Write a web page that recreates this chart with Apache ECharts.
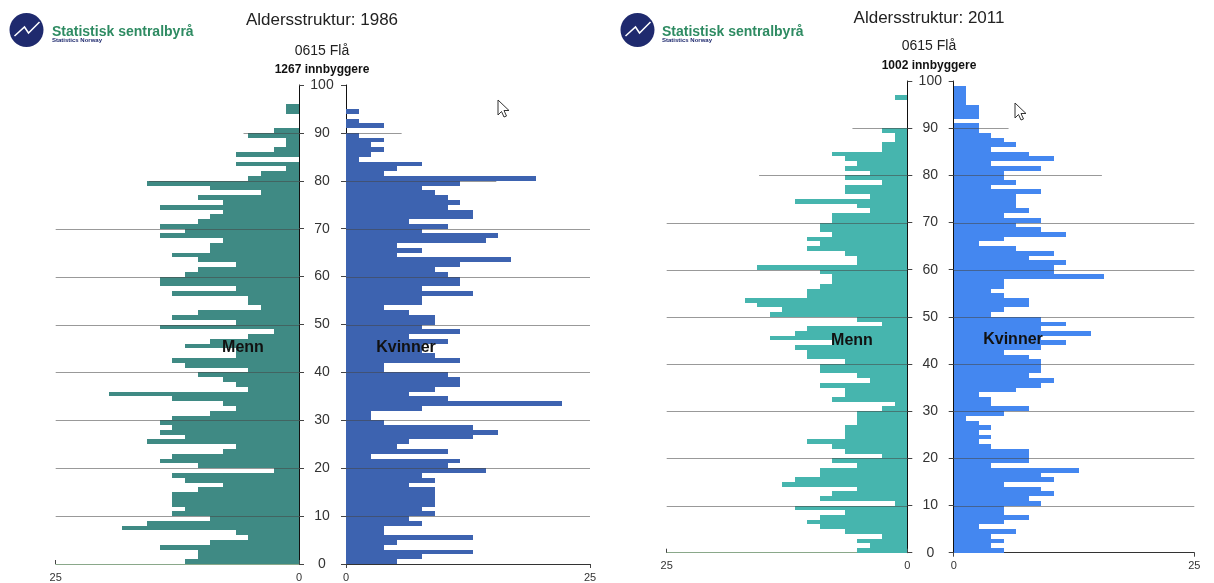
<!DOCTYPE html>
<html><head><meta charset="utf-8">
<script src="https://cdn.jsdelivr.net/npm/echarts@6/dist/echarts.min.js"></script>
<style>html,body{margin:0;padding:0;background:#fff}#c{width:1214px;height:583px}</style>
</head><body><div id="c"></div>
<script>
// Age classes (one bar per year of age)
const ages = [0,1,2,3,4,5,6,7,8,9,10,11,12,13,14,15,16,17,18,19,20,21,22,23,24,25,26,27,28,29,30,31,32,33,34,35,36,37,38,39,40,41,42,43,44,45,46,47,48,49,50,51,52,53,54,55,56,57,58,59,60,61,62,63,64,65,66,67,68,69,70,71,72,73,74,75,76,77,78,79,80,81,82,83,84,85,86,87,88,89,90,91,92,93,94,95,96,97,98,99,100];

// 1986 – values on the 0..25 axis, age 0..100
const menn1986 = [11.7,10.4,10.4,14.3,9.1,5.2,6.5,18.2,15.6,9.1,
  13,11.7,13,13,13,10.4,7.8,11.7,13,2.6,
  10.4,14.3,13,7.8,6.5,15.6,11.7,14.3,13,14.3,
  13,9.1,6.5,7.8,13,19.5,5.2,6.5,7.8,10.4,
  5.2,11.7,13,6.5,6.5,11.7,9.1,5.2,2.6,14.3,
  6.5,13,10.4,3.9,5.2,5.2,13,6.5,14.3,14.3,
  11.7,10.4,6.5,10.4,13,9.1,9.1,7.8,14.3,11.7,
  14.3,10.4,9.1,7.8,14.3,7.8,10.4,3.9,9.1,15.6,
  5.2,3.9,1.3,6.5,0,6.5,2.6,1.3,1.3,5.2,
  2.6,0,0,0,1.3,1.3,0,0,0,0,
  0];
const kvinner1986 = [5.2,7.8,13,3.9,5.2,13,3.9,3.9,7.8,6.5,
  9.1,7.8,9.1,9.1,9.1,9.1,6.5,9.1,7.8,14.3,
  10.4,11.7,2.6,10.4,5.2,6.5,13,15.6,13,3.9,
  2.6,2.6,7.8,22.1,10.4,6.5,9.1,11.7,11.7,10.4,
  3.9,3.9,11.7,9.1,7.8,7.8,10.4,6.5,11.7,7.8,
  9.1,9.1,6.5,3.9,7.8,7.8,13,7.8,11.7,11.7,
  10.4,9.1,11.7,16.9,5.2,7.8,5.2,14.3,15.6,7.8,
  10.4,6.5,13,13,10.4,11.7,10.4,9.1,7.8,11.7,
  19.5,3.9,5.2,7.8,1.3,2.6,3.9,2.6,3.9,1.3,
  0,3.9,1.3,0,1.3,0,0,0,0,0,
  0];

// 2011
const menn2011 = [5.2,3.9,5.2,2.6,6.5,9.1,10.4,9.1,6.5,11.7,
  1.3,9.1,7.8,5.2,13,11.7,9.1,9.1,5.2,7.8,
  2.6,6.5,7.8,10.4,6.5,6.5,6.5,5.2,5.2,5.2,
  2.6,1.3,7.8,6.5,6.5,9.1,3.9,5.2,9.1,9.1,
  6.5,10.4,10.4,11.7,7.8,14.3,11.7,10.4,2.6,5.2,
  14.3,13,15.6,16.9,10.4,10.4,9.1,7.8,7.8,9.1,
  15.6,5.2,5.2,6.5,10.4,9.1,10.4,7.8,9.1,9.1,
  7.8,7.8,3.9,5.2,11.7,3.9,6.5,6.5,2.6,6.5,
  3.9,6.5,5.2,6.5,7.8,2.6,2.6,1.3,1.3,2.6,
  0,0,0,0,0,0,1.3,0,0,0,
  0];
const kvinner2011 = [5.2,3.9,5.2,3.9,6.5,2.6,5.2,7.8,5.2,5.2,
  9.1,7.8,10.4,9.1,5.2,10.4,9.1,13,3.9,7.8,
  7.8,7.8,3.9,2.6,3.9,2.6,3.9,2.6,1.3,5.2,
  7.8,3.9,3.9,2.6,6.5,9.1,10.4,7.8,9.1,9.1,
  9.1,7.8,5.2,9.1,11.7,9.1,14.3,9.1,11.7,9.1,
  3.9,5.2,7.8,7.8,5.2,3.9,5.2,5.2,15.6,10.4,
  10.4,11.7,7.8,10.4,6.5,2.6,5.2,11.7,9.1,6.5,
  9.1,5.2,7.8,6.5,6.5,6.5,9.1,3.9,6.5,5.2,
  5.2,9.1,3.9,10.4,7.8,3.9,6.5,5.2,3.9,2.6,
  2.6,0,2.6,2.6,2.6,1.3,1.3,1.3,1.3,0,
  0];

const xMax = 25;
const yMax = 100;

const chart = echarts.init(document.getElementById('c'));
const FONT = "'Liberation Sans', Arial, sans-serif";

function barRenderer(color) {
  return function (params, api) {
    const v = api.value(0), a = api.value(1);
    const p0 = api.coord([0, a]);
    const p1 = api.coord([v, a + 1]);
    const x0 = Math.round(Math.min(p0[0], p1[0]));
    const x1 = Math.round(Math.max(p0[0], p1[0]));
    const y0 = Math.round(p1[1]), y1 = Math.round(p0[1]);
    if (x1 - x0 <= 0) return { type: 'group', children: [] };
    return { type: 'rect', shape: { x: x0, y: y0, width: x1 - x0, height: y1 - y0 }, style: { fill: color } };
  };
}
function gridRenderer(params, api) {
  const reach = api.value(0), a = api.value(1);
  const p0 = api.coord([0, a]), p1 = api.coord([reach, a]);
  const y = Math.round(p0[1]) + 0.5;
  return { type: 'line', shape: { x1: p0[0], y1: y, x2: p1[0], y2: y },
    style: { stroke: 'rgba(70,70,70,0.55)', lineWidth: 1 } };
}
const gridData = [[25,10],[25,20],[25,30],[25,40],[25,50],[25,60],[25,70],[15.4,80],[5.7,90]];

const grids = [
  { left: 55.7, top: 85, width: 243.3, height: 479 },
  { left: 346, top: 85, width: 244, height: 479 },
  { left: 666.7, top: 81, width: 240.6, height: 471.7 },
  { left: 953.7, top: 81, width: 240.6, height: 471.7 }
];

function xAxisFor(i, isMen) {
  return {
    type: 'value', gridIndex: i, min: 0, max: xMax, interval: xMax, inverse: isMen,
    axisLine: { show: true, onZero: false, lineStyle: { color: isMen ? '#8aa88a' : '#333', width: 1 } },
    axisTick: { show: true, inside: isMen, length: 4, lineStyle: { color: '#444' } },
    axisLabel: { fontSize: 11, color: '#333', fontFamily: FONT, margin: 8 },
    splitLine: { show: false }
  };
}
function yAxisFor(i, isMen, margin) {
  return {
    type: 'value', gridIndex: i, min: 0, max: yMax, interval: 10,
    position: isMen ? 'right' : 'left',
    axisLine: { show: true, onZero: false, lineStyle: { color: '#111', width: 1 } },
    axisTick: { show: true, length: 5, lineStyle: { color: '#444' } },
    axisLabel: { show: isMen, fontSize: 14, color: '#333', fontFamily: FONT, align: 'center', margin: margin },
    splitLine: { show: false }
  };
}

const panels = [
  { vals: menn1986, color: '#3f8a84' },
  { vals: kvinner1986, color: '#3d63b0' },
  { vals: menn2011, color: '#46b5ae' },
  { vals: kvinner2011, color: '#4487f0' }
];
const series = [];
panels.forEach((p, i) => {
  series.push({
    type: 'custom', xAxisIndex: i, yAxisIndex: i, renderItem: barRenderer(p.color),
    encode: { x: 0, y: 1 }, data: ages.map((a, k) => [p.vals[k], a]), z: 2, silent: true
  });
  series.push({
    type: 'custom', xAxisIndex: i, yAxisIndex: i, renderItem: gridRenderer,
    encode: { x: 0, y: 1 }, data: gridData, z: 3, silent: true
  });
});

function logo(cx, tx) {
  return [
    { type: 'circle', shape: { cx: cx, cy: 30, r: 17 }, style: { fill: '#1f2a6e' } },
    { type: 'polyline', shape: { points: [[cx - 12, 36], [cx - 2, 27], [cx + 2, 33], [cx + 13, 22]] },
      style: { stroke: '#fff', lineWidth: 1.5, fill: null } },
    { type: 'text', style: { text: 'Statistisk sentralbyrå', x: tx, y: 32, textVerticalAlign: 'middle',
      font: "bold 14px " + FONT, fill: '#2e8b62' } },
    { type: 'text', style: { text: 'Statistics Norway', x: tx, y: 40, textVerticalAlign: 'middle',
      font: "bold 6px " + FONT, fill: '#1f2a6e' } }
  ];
}
function texts(cx, yTitle, ySub, yPop, title, pop) {
  return [
    { type: 'text', style: { text: title, x: cx, y: yTitle, textAlign: 'center', textVerticalAlign: 'middle',
      font: "17px " + FONT, fill: '#222' } },
    { type: 'text', style: { text: '0615 Flå', x: cx, y: ySub, textAlign: 'center', textVerticalAlign: 'middle',
      font: "14px " + FONT, fill: '#222' } },
    { type: 'text', style: { text: pop, x: cx, y: yPop, textAlign: 'center', textVerticalAlign: 'middle',
      font: "bold 12px 'Liberation Sans Narrow', 'Liberation Sans', Arial, sans-serif", fill: '#111' } }
  ];
}
function label(t, x, y) {
  return { type: 'text', z: 10, style: { text: t, x: x, y: y, textAlign: 'center', textVerticalAlign: 'middle',
    font: "bold 16px " + FONT, fill: '#111' } };
}
function cursor(x, y) {
  return { type: 'polygon', z: 20,
    shape: { points: [[x, y], [x, y + 15], [x + 3.5, y + 11.5], [x + 6, y + 17], [x + 8.5, y + 16], [x + 6, y + 10.5], [x + 11, y + 10.5]] },
    style: { fill: '#fff', stroke: '#333', lineWidth: 1 } };
}

chart.setOption({
  animation: false,
  backgroundColor: '#fff',
  grid: grids,
  xAxis: [xAxisFor(0, true), xAxisFor(1, false), xAxisFor(2, true), xAxisFor(3, false)],
  yAxis: [yAxisFor(0, true, 23), yAxisFor(1, false, 0), yAxisFor(2, true, 23), yAxisFor(3, false, 0)],
  series: series,
  graphic: [].concat(
    logo(26.5, 52), logo(637.5, 662),
    texts(322, 20, 51, 70, 'Aldersstruktur: 1986', '1267 innbyggere'),
    texts(929, 18, 46, 66, 'Aldersstruktur: 2011', '1002 innbyggere'),
    [label('Menn', 243, 348), label('Kvinner', 406, 348), label('Menn', 852, 341), label('Kvinner', 1013, 340)],
    [cursor(498, 100), cursor(1015, 103)]
  )
});
</script>
</body></html>
